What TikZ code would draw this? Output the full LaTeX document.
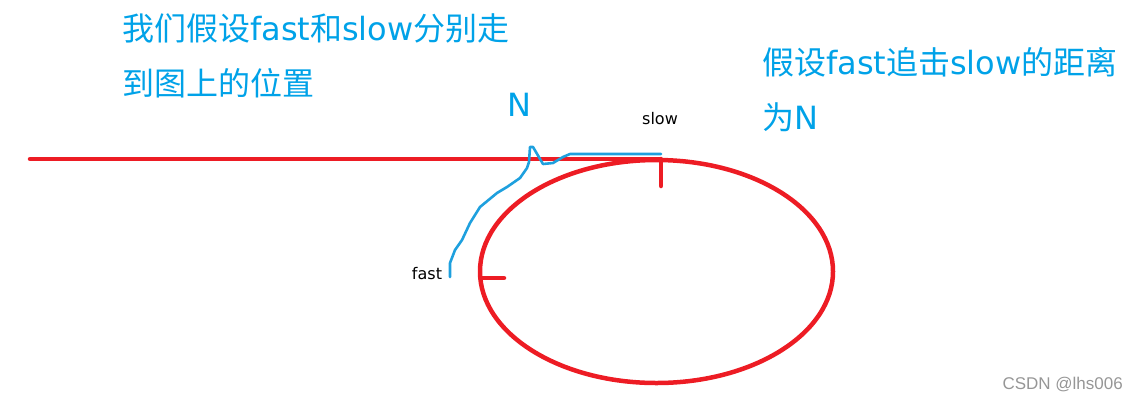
\documentclass[tikz,border=0pt]{standalone}
\usepackage{fontspec}
\setmainfont{DejaVu Sans}
\newfontfamily\cjk{Noto Sans CJK SC}
\newfontfamily\wm{Liberation Sans}
\definecolor{pred}{RGB}{237,28,36}
\definecolor{pblue}{RGB}{0,162,232}
\definecolor{lblue}{RGB}{30,160,222}
\definecolor{wgray}{RGB}{150,150,150}
\tikzset{
  redline/.style={draw=pred,line width=4.5pt,line cap=round},
  blueline/.style={draw=lblue,line width=2.6pt,line join=round,line cap=round},
  bigtext/.style={text=pblue,font=\fontsize{32}{32}\selectfont,inner sep=0pt,anchor=base west},
  smalltext/.style={text=black,font=\fontsize{16}{16}\selectfont,inner sep=0pt}
}
\begin{document}
\begin{tikzpicture}[x=1pt,y=-1pt]
\useasboundingbox (0,0) rectangle (1139,400);
% track
\draw[redline] (30,159) -- (660,159);
\draw[redline] (656.5,271.5) ellipse [x radius=176.5, y radius=111.5];
\draw[redline] (661,159) -- (661,186);
\draw[redline] (481,278) -- (504,278);
% fast path
\draw[blueline] (450,277) -- (450,263) -- (455,250) -- (462,240) -- (470,223) -- (480,207)
  -- (497,193) -- (507,187) -- (520,178) -- (527,168) -- (529,162) -- (530,147) -- (533,147)
  -- (543,164) -- (553,163) -- (563,157) -- (570,154) -- (661,154);
% labels
\node[bigtext] (t1) at (122,40) {{\cjk 我们假设}fast{\cjk 和}slow{\cjk 分别走}};
\node[bigtext] (t2) at (122,95) {{\cjk 到图上的位置}};
\node[bigtext] (t3) at (762,74) {{\cjk 假设}fast{\cjk 追击}slow{\cjk 的距离}};
\node[bigtext] (t4) at (762,129) {{\cjk 为}N};
\node[text=pblue,font=\fontsize{32}{32}\selectfont,inner sep=0pt,anchor=base] (n) at (519,116) {N};
\node[smalltext,anchor=base] (slow) at (660,124) {slow};
\node[smalltext,anchor=base] (fast) at (427,279) {fast};
\node[text=wgray,font=\wm\fontsize{17}{17}\selectfont,inner sep=0pt,anchor=base east] (wm) at (1123,389) {CSDN @lhs006};
\end{tikzpicture}
\end{document}
